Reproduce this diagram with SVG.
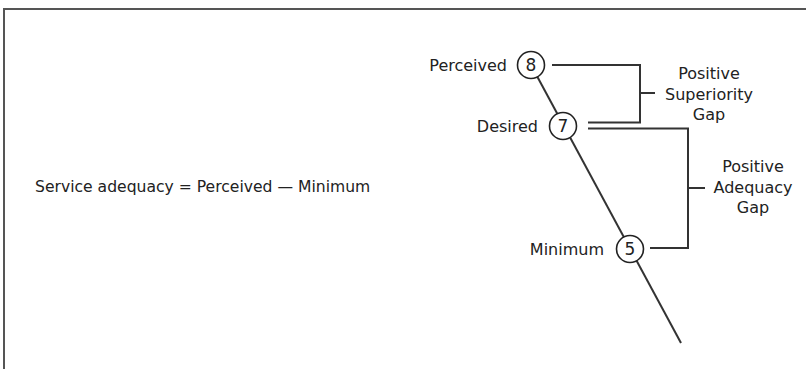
<svg xmlns="http://www.w3.org/2000/svg" width="806" height="369" viewBox="0 0 806 369">
<style>
  .ln{stroke:#333;stroke-width:2;fill:none}
  .node circle{fill:#fff;stroke:#222;stroke-width:1.6}
  text{font-family:"DejaVu Sans","Liberation Sans",sans-serif;font-size:16px;fill:#222}
  .num{font-size:17px;text-anchor:middle}
  .r{text-anchor:end}
  .c{text-anchor:middle}
</style>
<rect x="4" y="9" width="900" height="400" fill="#fff" stroke="#555" stroke-width="2"/>
<g id="connectors">
  <line class="ln" x1="531" y1="65" x2="681" y2="343"/>
  <polyline class="ln" points="552,65 640,65 640,122.5 588,122.5"/>
  <line class="ln" x1="640" y1="93" x2="655" y2="93"/>
  <polyline class="ln" points="588,128.5 688,128.5 688,248 650,248"/>
  <line class="ln" x1="688" y1="188" x2="705" y2="188"/>
</g>
<g id="node-perceived" class="node">
  <circle cx="531" cy="65" r="13.5"/>
  <text class="num" x="531" y="71">8</text>
  <text class="r" x="507" y="71">Perceived</text>
</g>
<g id="node-desired" class="node">
  <circle cx="563" cy="126" r="13.5"/>
  <text class="num" x="563" y="132">7</text>
  <text class="r" x="538" y="132">Desired</text>
</g>
<g id="node-minimum" class="node">
  <circle cx="630" cy="249" r="13.5"/>
  <text class="num" x="630" y="255">5</text>
  <text class="r" x="604" y="255">Minimum</text>
</g>
<g id="label-superiority">
  <text class="c" x="709" y="79">Positive</text>
  <text class="c" x="709" y="100">Superiority</text>
  <text class="c" x="709" y="120">Gap</text>
</g>
<g id="label-adequacy">
  <text class="c" x="753" y="172">Positive</text>
  <text class="c" x="753" y="193">Adequacy</text>
  <text class="c" x="753" y="213">Gap</text>
</g>
<g id="formula">
  <text x="35" y="192" style="font-size:15.6px">Service adequacy = Perceived — Minimum</text>
</g>
</svg>
